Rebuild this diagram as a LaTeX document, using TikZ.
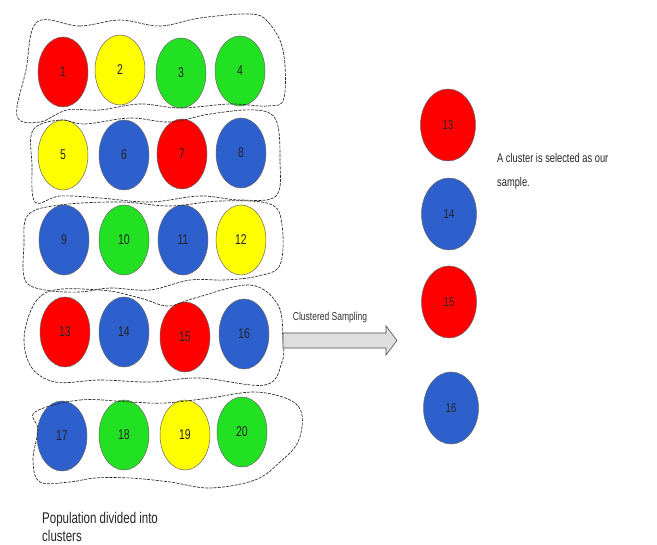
\documentclass[tikz,border=0pt]{standalone}
\usepackage{fontspec}
\setmainfont{Liberation Sans}
\usetikzlibrary{shapes.geometric}
\definecolor{cred}{RGB}{255,0,0}
\definecolor{cyel}{RGB}{255,255,0}
\definecolor{cgrn}{RGB}{34,225,34}
\definecolor{cblu}{RGB}{45,95,205}
\newcommand{\tl}[1]{\scalebox{1}[1.35]{#1}}
\begin{document}
\begin{tikzpicture}[x=1pt,y=-1pt,
  ball/.style={ellipse, minimum width=50pt, minimum height=70pt, inner sep=0pt, draw=black!60, line width=0.5pt, font=\fontsize{10.5}{12}\selectfont, text=black!85},
  bigball/.style={ball, minimum width=55pt, minimum height=72pt, font=\fontsize{9.5}{11}\selectfont},
  R/.style={fill=cred},
  Y/.style={fill=cyel},
  G/.style={fill=cgrn},
  B/.style={fill=cblu},
  clus/.style={draw=black!85, line width=0.65pt, dash pattern=on 3pt off 1.2pt}]
\useasboundingbox (0,0) rectangle (657,545);
\fill[white] (0,0) rectangle (657,545);
% row 1
\node[ball,R] (c1) at (63,72) {\tl{1}};
\node[ball,Y] (c2) at (120,70) {\tl{2}};
\node[ball,G] (c3) at (181,73) {\tl{3}};
\node[ball,G] (c4) at (240,71) {\tl{4}};
% row 2
\node[ball,Y] (c5) at (63,155) {\tl{5}};
\node[ball,B] (c6) at (124,155) {\tl{6}};
\node[ball,R] (c7) at (182,154) {\tl{7}};
\node[ball,B] (c8) at (241,153) {\tl{8}};
% row 3
\node[ball,B] (c9) at (64,240) {\tl{9}};
\node[ball,G] (c10) at (124,240) {\tl{10}};
\node[ball,B] (c11) at (183,240) {\tl{11}};
\node[ball,Y] (c12) at (241,240) {\tl{12}};
% row 4
\node[ball,R] (c13) at (65,332) {\tl{13}};
\node[ball,B] (c14) at (124,332) {\tl{14}};
\node[ball,R] (c15) at (185,337) {\tl{15}};
\node[ball,B] (c16) at (244,334) {\tl{16}};
% row 5
\node[ball,B] (c17) at (62,436) {\tl{17}};
\node[ball,G] (c18) at (124,435) {\tl{18}};
\node[ball,Y] (c19) at (185,435) {\tl{19}};
\node[ball,G] (c20) at (242,432) {\tl{20}};
% clusters
\draw[clus] plot[smooth cycle, tension=0.6] coordinates {(37,22) (80,26) (120,20) (160,26) (200,18) (250,14) (268,22) (283,50) (284,98) (268,106) (230,104) (180,108) (140,104) (100,110) (67,110) (40,122) (17,116) (26,70)};
\draw[clus] plot[smooth cycle, tension=0.6] coordinates {(33,130) (60,120) (85,124) (130,118) (170,122) (210,114) (255,110) (276,120) (280,160) (276,196) (240,200) (200,196) (150,202) (100,198) (60,196) (35,202) (32,165)};
\draw[clus] plot[smooth cycle, tension=0.6] coordinates {(28,215) (60,205) (120,202) (170,206) (220,201) (270,204) (282,225) (280,265) (258,276) (225,280) (190,280) (150,290) (110,288) (80,292) (45,290) (25,280) (24,245)};
\draw[clus] plot[smooth cycle, tension=0.6] coordinates {(45,293) (100,290) (140,298) (168,306) (195,298) (250,285) (278,305) (283,340) (282,362) (265,385) (200,378) (150,382) (100,380) (55,382) (30,365) (25,330)};
\draw[clus] plot[smooth cycle, tension=0.6] coordinates {(35,412) (80,400) (130,402) (165,403) (210,398) (255,392) (290,400) (302,415) (298,442) (280,462) (255,480) (210,488) (170,482) (130,478) (95,478) (70,482) (40,482) (33,460) (38,430)};
% arrow
\coordinate (arrS) at (283,340.5);
\coordinate (arrT) at (397,340.5);
\draw[draw=black!70, fill=gray!25, line width=0.6pt] (283,333) -- (386,333) -- (386,326) -- (arrT) -- (386,355) -- (386,348) -- (283,348) -- cycle;
\node[font=\fontsize{8.5}{10}\selectfont, text=black!80] (lbl) at (330,318) {\tl{Clustered Sampling}};
% sample
\node[bigball,R] (s13) at (448,125) {\tl{13}};
\node[bigball,B] (s14) at (449,214) {\tl{14}};
\node[bigball,R] (s15) at (449,302) {\tl{15}};
\node[bigball,B] (s16) at (451,408) {\tl{16}};
\node[anchor=west, inner sep=0pt, font=\fontsize{9.3}{17.3}\selectfont, text=black!85] (sel) at (497,170) {\tl{\begin{tabular}{@{}l@{}}A cluster is selected as our\\ sample.\end{tabular}}};
\node[anchor=west, inner sep=0pt, font=\fontsize{11.5}{13}\selectfont, text=black!85] (pop) at (42,529) {\tl{\begin{tabular}{@{}l@{}}Population divided into\\ clusters\end{tabular}}};
\end{tikzpicture}
\end{document}
